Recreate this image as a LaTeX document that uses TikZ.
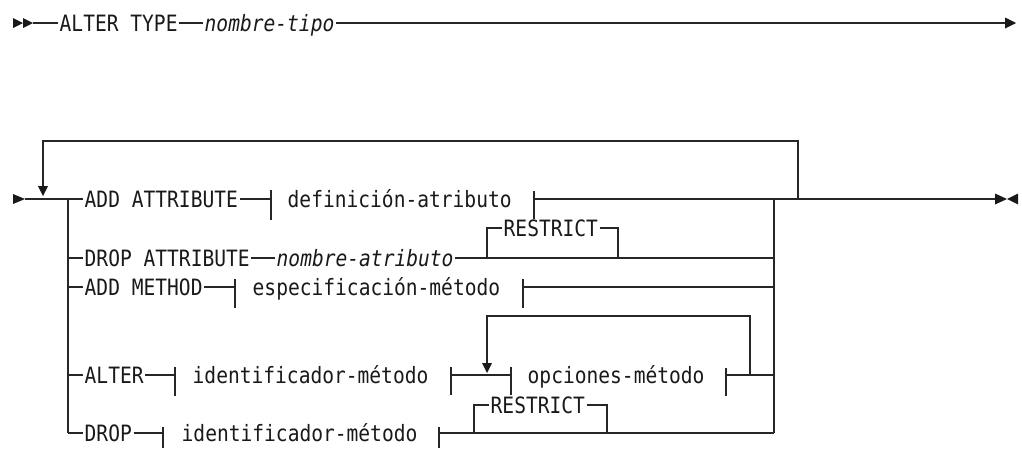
\documentclass[tikz,border=0pt]{standalone}
\usepackage{fontspec}
\usetikzlibrary{calc}
\newfontfamily\rrfont[FakeStretch=0.87]{DejaVu Sans Mono}
\newcommand\rrsize{\rrfont\fontsize{22.5pt}{25pt}\selectfont}
\begin{document}
\begin{tikzpicture}[x=1pt,y=-1pt,
  rail/.style={draw=black!85, line width=1.3pt},
  lbl/.style={font=\rrsize, text=black!90, inner xsep=1.5pt, inner ysep=0pt,
              text height=16.2pt, text depth=0pt, anchor=west},
  ilbl/.style={lbl, font=\rrsize\itshape},
  tipfill/.style={fill=black!90, draw=none}]
\useasboundingbox (0,0) rectangle (1022,448);

% ---------- row 0 ----------
\coordinate (s0) at (33,23);
\coordinate (e0) at (1005,23);
\node[lbl] (alter) at (58,23) {ALTER TYPE};
\node[ilbl] (tname) at (203,23) {nombre-tipo};
\fill[tipfill] (13,18) -- (23,23) -- (13,28) -- cycle;
\fill[tipfill] (23,18) -- (33,23) -- (23,28) -- cycle;
\draw[rail] (s0) -- (alter.west);
\draw[rail] (alter.east) -- (tname.west);
\draw[rail] (tname.east) -- (e0);
\fill[tipfill] (1005,17.5) -- (1016,23) -- (1005,28.5) -- cycle;

% ---------- junction coordinates ----------
\coordinate (s1) at (25,199);
\coordinate (L1) at (68,199);
\coordinate (L5) at (68,433);
\coordinate (R1) at (774,199);
\coordinate (R5) at (774,433);
\coordinate (loopR) at (798,199);
\coordinate (loopA) at (43,186);
\coordinate (e1) at (995,199);

% start arrow and repeat loop
\fill[tipfill] (13,194) -- (25,199) -- (13,204) -- cycle;
\draw[rail] (s1) -- (L1);
\draw[rail] (loopR) |- (43,141) -- (loopA);
\fill[tipfill] (38,186) -- (48,186) -- (43,196) -- cycle;

% verticals
\draw[rail] (L1) -- (L5);
\draw[rail] (R1) -- (R5);

% ---------- row 1: ADD ATTRIBUTE ----------
\node[lbl] (addattr) at (83,199) {ADD ATTRIBUTE};
\node[lbl] (defatr) at (286,199) {definición-atributo};
\coordinate (b1a) at (271,199);
\coordinate (b1b) at (534,199);
\draw[rail] (L1) -- (addattr.west);
\draw[rail] (addattr.east) -- (b1a);
\draw[rail] ($(b1a)+(0,-9)$) -- ($(b1a)+(0,21)$);
\draw[rail] ($(b1b)+(0,-8)$) -- ($(b1b)+(0,20)$);
\draw[rail] (b1b) -- (loopR);
\draw[rail] (loopR) -- (e1);
\draw[draw=black!85, line width=2.4pt] (804,199) -- (827,199);
\fill[tipfill] (995,193.5) -- (1007,199) -- (995,204.5) -- cycle;
\fill[tipfill] (1018,193.5) -- (1007,199) -- (1018,204.5) -- cycle;

% ---------- row 2: DROP ATTRIBUTE ----------
\node[lbl] (dropattr) at (83,258) {DROP ATTRIBUTE};
\node[ilbl] (natr) at (275,258) {nombre-atributo};
\coordinate (r2a) at (487,258);
\coordinate (r2b) at (618,258);
\node[lbl] (restr1) at (502,228) {RESTRICT};
\draw[rail] (68,258) -- (dropattr.west);
\draw[rail] (dropattr.east) -- (natr.west);
\draw[rail] (natr.east) -- (774,258);
\draw[rail] (r2a) |- (restr1.west);
\draw[rail] (restr1.east) -| (r2b);

% ---------- row 3: ADD METHOD ----------
\node[lbl] (addmeth) at (83,287) {ADD METHOD};
\node[lbl] (espec) at (251,287) {especificación-método};
\coordinate (b3a) at (235,287);
\coordinate (b3b) at (523,287);
\draw[rail] (68,287) -- (addmeth.west);
\draw[rail] (addmeth.east) -- (b3a);
\draw[rail] ($(b3a)+(0,-8)$) -- ($(b3a)+(0,21)$);
\draw[rail] ($(b3b)+(0,-8)$) -- ($(b3b)+(0,21)$);
\draw[rail] (b3b) -- (774,287);

% ---------- row 4: ALTER ----------
\node[lbl] (alt) at (83,375) {ALTER};
\node[lbl] (ident1) at (191,375) {identificador-método};
\node[lbl] (opc) at (526,375) {opciones-método};
\coordinate (b4a) at (175,375);
\coordinate (b4b) at (451,375);
\coordinate (b4c) at (511,375);
\coordinate (b4d) at (726,375);
\coordinate (lp4R) at (750,375);
\coordinate (lp4A) at (487,363);
\draw[rail] (68,375) -- (alt.west);
\draw[rail] (alt.east) -- (b4a);
\draw[rail] ($(b4a)+(0,-8)$) -- ($(b4a)+(0,21)$);
\draw[rail] ($(b4b)+(0,-8)$) -- ($(b4b)+(0,20)$);
\draw[rail] (b4b) -- (b4c);
\draw[rail] ($(b4c)+(0,-8)$) -- ($(b4c)+(0,20)$);
\draw[rail] ($(b4d)+(0,-7)$) -- ($(b4d)+(0,21)$);
\draw[rail] (b4d) -- (774,375);
\draw[rail] (lp4R) |- (487,316) -- (lp4A);
\fill[tipfill] (482,363) -- (492,363) -- (487,373) -- cycle;

% ---------- row 5: DROP ----------
\node[lbl] (drp) at (83,433) {DROP};
\node[lbl] (ident2) at (180,433) {identificador-método};
\node[lbl] (restr2) at (489,405) {RESTRICT};
\coordinate (b5a) at (163,433);
\coordinate (b5b) at (439,433);
\coordinate (r5a) at (474,433);
\coordinate (r5b) at (607,433);
\draw[rail] (L5) -- (drp.west);
\draw[rail] (drp.east) -- (b5a);
\draw[rail] ($(b5a)+(0,-6)$) -- (163,448);
\draw[rail] ($(b5b)+(0,-6)$) -- (439,448);
\draw[rail] (b5b) -- (R5);
\draw[rail] (r5a) |- (restr2.west);
\draw[rail] (restr2.east) -| (r5b);
\end{tikzpicture}
\end{document}
